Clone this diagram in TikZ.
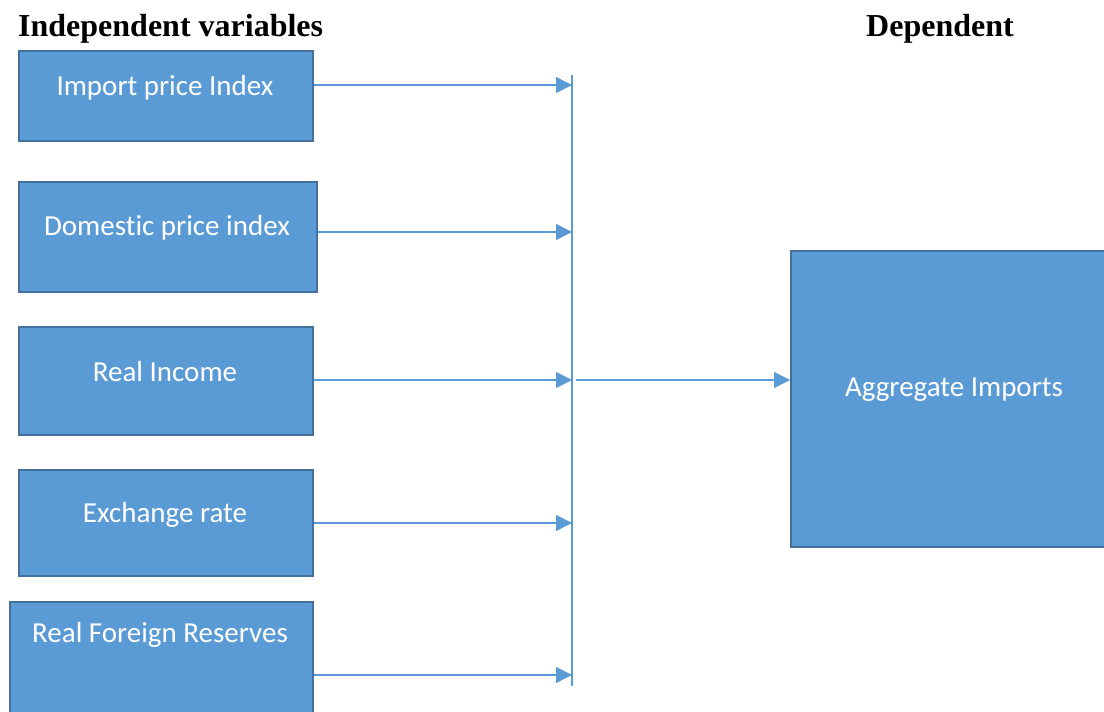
\documentclass[tikz,border=0pt]{standalone}
\usepackage{fontspec}
\setmainfont{Liberation Serif}
\newfontfamily\boxfont[Ligatures=NoCommon]{Carlito}
\usetikzlibrary{arrows.meta}
\definecolor{boxfill}{HTML}{5B9BD5}
\definecolor{boxline}{HTML}{41719C}
\begin{document}
\begin{tikzpicture}[x=1pt,y=-1pt,
  vbox/.style={draw=boxline,line width=1.5pt,fill=boxfill,rectangle,inner sep=0pt,anchor=north west},
  vlabel/.style={text=white,font=\boxfont\fontsize{29}{34}\selectfont,inner sep=0pt},
  title/.style={font=\bfseries\fontsize{32}{36}\selectfont,inner sep=0pt},
  conn/.style={draw=boxfill,line width=1.3pt,-{Triangle[length=16pt,width=16pt]}}]
\useasboundingbox (0,0) rectangle (1104,712);
\clip (0,0) rectangle (1104,712);
\node[title,anchor=west] (tin) at (18,29) {Independent variables};
\node[title] (tdep) at (940,29) {Dependent};
\node[vbox,minimum width=294pt,minimum height=90pt] (b1) at (18,50) {};
\node[vbox,minimum width=298pt,minimum height=110pt] (b2) at (18,181) {};
\node[vbox,minimum width=294pt,minimum height=108pt] (b3) at (18,326) {};
\node[vbox,minimum width=294pt,minimum height=106pt] (b4) at (18,469) {};
\node[vbox,minimum width=303pt,minimum height=140pt] (b5) at (9,601) {};
\node[vbox,minimum width=340pt,minimum height=296pt] (agg) at (790,250) {};
\node[vlabel] (l1) at (165,88) {Import price Index};
\node[vlabel] (l2) at (167,228) {Domestic price index};
\node[vlabel] (l3) at (165,372) {Real Income};
\node[vlabel] (l4) at (165,515) {Exchange rate};
\node[vlabel] (l5) at (160,635) {Real Foreign Reserves};
\node[vlabel] (l6) at (954,390) {Aggregate Imports};
\coordinate (top) at (572,75);
\coordinate (bot) at (572,686);
\draw[draw=boxfill,line width=1.3pt] (top) -- (bot);
\coordinate (e1) at (572,85);
\coordinate (e2) at (572,232);
\coordinate (e3) at (572,380);
\coordinate (e4) at (572,523);
\coordinate (e5) at (572,675);
\coordinate (s6) at (576,380);
\draw[conn] (b1.east |- e1) -- (e1);
\draw[conn] (b2.east |- e2) -- (e2);
\draw[conn] (b3.east |- e3) -- (e3);
\draw[conn] (b4.east |- e4) -- (e4);
\draw[conn] (b5.east |- e5) -- (e5);
\draw[conn] (s6) -- (agg.west |- s6);
\end{tikzpicture}
\end{document}
